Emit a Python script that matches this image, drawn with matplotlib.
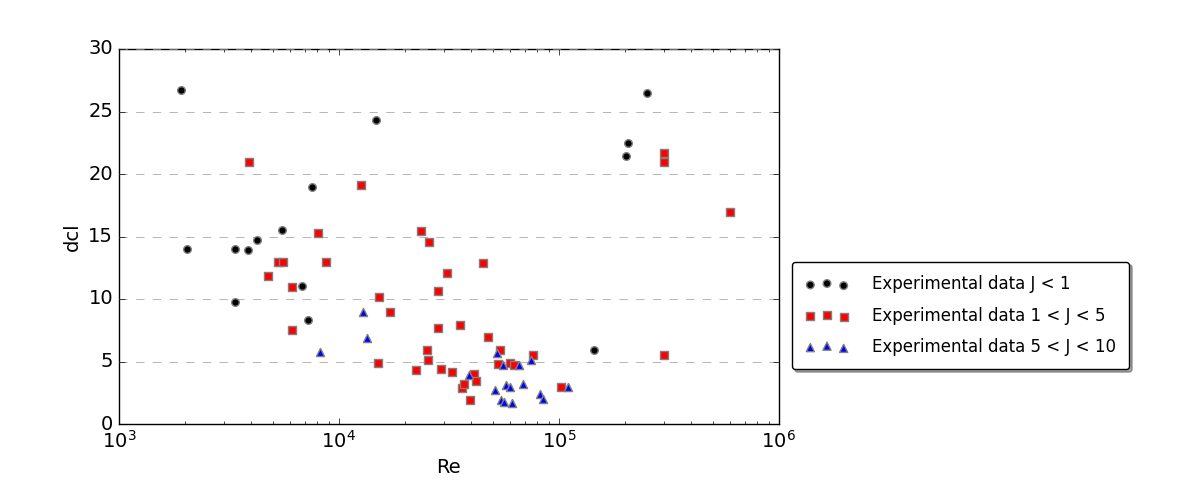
import matplotlib
matplotlib.use("Agg")
import matplotlib.pyplot as plt

# J < 1
re_j1 = [1913, 2050, 3360, 3360, 3870, 4270, 5520, 6810, 7280, 7560,
         14770, 144200, 201000, 207400, 251000]
dcl_j1 = [26.7, 14.0, 14.0, 9.75, 13.9, 14.7, 15.55, 11.05, 8.3, 18.95,
          24.35, 5.95, 21.45, 22.45, 26.5]

# 1 < J < 5
re_j5 = [3900, 4770, 5280, 5570, 6130, 6130, 8030, 8760, 12590, 15310,
         15040, 17140, 22390, 23660, 25120, 25470, 25650, 28280, 28280, 29240,
         31130, 32630, 35380, 36360, 37000, 39540, 41090, 41960, 45280, 47910,
         53770, 52810, 60060, 62630, 76180, 101800, 300000, 300000, 300000, 600000]
dcl_j5 = [20.95, 11.85, 12.95, 12.95, 10.95, 7.5, 15.25, 12.95, 19.15, 10.15,
          4.87, 8.95, 4.35, 15.45, 5.92, 5.12, 14.55, 10.65, 7.67, 4.42,
          12.05, 4.15, 7.95, 2.9, 3.2, 1.92, 3.97, 3.44, 12.9, 6.96,
          5.92, 4.8, 4.9, 4.7, 5.5, 2.98, 21.65, 20.95, 5.5, 16.95]

# 5 < J < 10
re_j10 = [8200, 12860, 13400, 39100, 51170, 52270, 54330, 55660, 56640, 57250,
          60060, 61270, 65790, 68400, 75000, 82200, 84840, 110200]
dcl_j10 = [5.8, 9.0, 6.9, 3.95, 2.7, 5.7, 1.9, 4.75, 1.8, 3.1,
           3.0, 1.7, 4.7, 3.2, 5.1, 2.4, 2.0, 2.95]

plt.style.use("classic")
plt.rcParams["font.size"] = 14
fig = plt.figure(figsize=(12, 5), dpi=100, facecolor="white")
ax = fig.add_axes([0.099, 0.152, 0.55, 0.75])

ax.scatter(re_j1, dcl_j1, s=30, c="black", marker="o", edgecolors="0.5",
           linewidths=1, label="Experimental data J < 1", zorder=3)
ax.scatter(re_j5, dcl_j5, s=34, c="red", marker="s", edgecolors="0.5",
           linewidths=1, label="Experimental data 1 < J < 5", zorder=3)
ax.scatter(re_j10, dcl_j10, s=34, c="blue", marker="^", edgecolors="0.5",
           linewidths=1, label="Experimental data 5 < J < 10", zorder=3)

ax.set_xscale("log")
ax.set_xlim(1e3, 1e6)
ax.set_ylim(0, 30)
ax.set_xlabel("Re")
ax.set_ylabel("dcl")
ax.yaxis.grid(True, linestyle="--", color="0.6")
ax.xaxis.grid(False)

leg = ax.legend(loc="upper left", bbox_to_anchor=(1.02, 0.432), borderaxespad=0,
                scatterpoints=3, fancybox=True, shadow=True, fontsize=12,
                markerscale=1.0, labelspacing=0.8, handlelength=2.6,
                handletextpad=1.4, borderpad=0.8)

fig.savefig("out.png", dpi=100, facecolor="white")
